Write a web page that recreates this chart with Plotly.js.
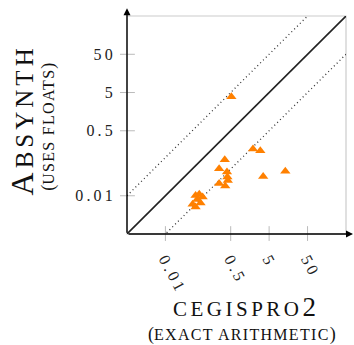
<!DOCTYPE html>
<html>
<head>
<meta charset="utf-8">
<script src="https://cdn.plot.ly/plotly-3.0.1.min.js"></script>
<style>html,body{margin:0;padding:0;background:#fff;}#chart{width:354px;height:345px;}</style>
</head>
<body>
<div id="chart"></div>
<script>
// cegispro2 runtime (x) vs Absynth runtime (y), seconds
const cegisproTimes = [0.52, 1.9, 2.95, 13.2, 3.5, 0.35, 0.25, 0.40, 0.41, 0.42, 0.25, 0.36, 0.061, 0.076, 0.093, 0.051, 0.061, 0.082, 0.067];
const absynthTimes  = [3.9, 0.168, 0.15, 0.044, 0.032, 0.087, 0.051, 0.042, 0.031, 0.025, 0.021, 0.018, 0.0102, 0.011, 0.0093, 0.006, 0.0051, 0.0065, 0.008];
const tickValues = [0.01, 0.5, 5, 50];
const tickLabels = ['0.01', '0.5', '5', '50'];
const axisExtent = [0.001, 500];

const serif = 'Liberation Serif, DejaVu Serif, serif';
const spaced = (s, px) => '<span style="letter-spacing:' + px + 'px">' + s + '</span>';

const traces = [
  {x: axisExtent, y: axisExtent.map(v => v * 10), mode: 'lines', line: {color: '#333', width: 1.3, dash: '1px,3px'}, hoverinfo: 'skip', showlegend: false},
  {x: axisExtent, y: axisExtent.map(v => v / 10), mode: 'lines', line: {color: '#333', width: 1.3, dash: '1px,3px'}, hoverinfo: 'skip', showlegend: false},
  {x: axisExtent, y: axisExtent, mode: 'lines', line: {color: '#222', width: 1.6}, hoverinfo: 'skip', showlegend: false},
  {x: cegisproTimes, y: absynthTimes, mode: 'markers', type: 'scatter',
   marker: {symbol: 'triangle-up', size: 9, color: '#ff8000', line: {width: 0}}, showlegend: false}
];

const shapes = [
  {type: 'rect', xref: 'paper', yref: 'paper', x0: 0, x1: 1, y0: 0, y1: 1, line: {color: '#cccccc', width: 1.2}, layer: 'below'}
];
tickValues.forEach(v => {
  shapes.push({type: 'line', xref: 'x', yref: 'paper', x0: v, x1: v, y0: -0.032, y1: 0.036, line: {color: '#bbbbbb', width: 1}, layer: 'below'});
  shapes.push({type: 'line', xref: 'paper', yref: 'y', x0: -0.032, x1: 0.036, y0: v, y1: v, line: {color: '#bbbbbb', width: 1}, layer: 'below'});
});

const annotations = [
  {xref: 'paper', yref: 'paper', x: 0, y: 1.035, ax: 0, ay: 226, axref: 'pixel', ayref: 'pixel', text: '', showarrow: true, arrowhead: 2, arrowsize: 1, arrowwidth: 1.4, arrowcolor: '#000'},
  {xref: 'paper', yref: 'paper', x: 1.032, y: 0, ax: -226, ay: 0, axref: 'pixel', ayref: 'pixel', text: '', showarrow: true, arrowhead: 2, arrowsize: 1, arrowwidth: 1.4, arrowcolor: '#000'},
  {xref: 'paper', yref: 'paper', x: -0.48, y: 0.525, textangle: -90, showarrow: false, xanchor: 'center', yanchor: 'middle',
   text: '<span style="letter-spacing:4px">A</span><span style="font-size:25px;letter-spacing:4px">BSYNTH</span>',
   font: {family: serif, size: 32, color: '#111'}},
  {xref: 'paper', yref: 'paper', x: -0.358, y: 0.49, textangle: -90, showarrow: false, xanchor: 'center', yanchor: 'middle',
   text: '(<span style="font-size:16px;letter-spacing:1.3px">USES FLOATS</span>)',
   font: {family: serif, size: 18, color: '#111'}},
  {xref: 'paper', yref: 'paper', x: 0.535, y: -0.4077, showarrow: false, xanchor: 'center', yanchor: 'bottom', borderpad: 0,
   text: '<span style="letter-spacing:3.5px">CEGISPRO</span><span style="font-size:27px">2</span>',
   font: {family: serif, size: 21, color: '#111'}},
  {xref: 'paper', yref: 'paper', x: 0.523, y: -0.4077, showarrow: false, xanchor: 'center', yanchor: 'top', borderpad: 0,
   text: '(<span style="font-size:16px;letter-spacing:1.3px">EXACT ARITHMETIC</span>)',
   font: {family: serif, size: 18, color: '#111'}}
];

const axisCommon = {
  type: 'log', range: [-3, 2.7], tickmode: 'array', tickvals: tickValues,
  ticktext: tickLabels.map(t => spaced(t, 3.2)),
  showgrid: false, zeroline: false, showline: false, ticks: '',
  tickfont: {family: serif, size: 16, color: '#222'}, fixedrange: true
};

const layout = {
  width: 354, height: 345,
  margin: {l: 127, r: 8, t: 16, b: 111},
  paper_bgcolor: '#fff', plot_bgcolor: '#fff',
  xaxis: Object.assign({}, axisCommon, {tickangle: 62, ticklabelstandoff: 12}),
  yaxis: Object.assign({}, axisCommon, {ticklabelstandoff: 10}),
  shapes: shapes,
  annotations: annotations,
  showlegend: false
};

Plotly.newPlot('chart', traces, layout, {staticPlot: true, displayModeBar: false});
</script>
</body>
</html>
